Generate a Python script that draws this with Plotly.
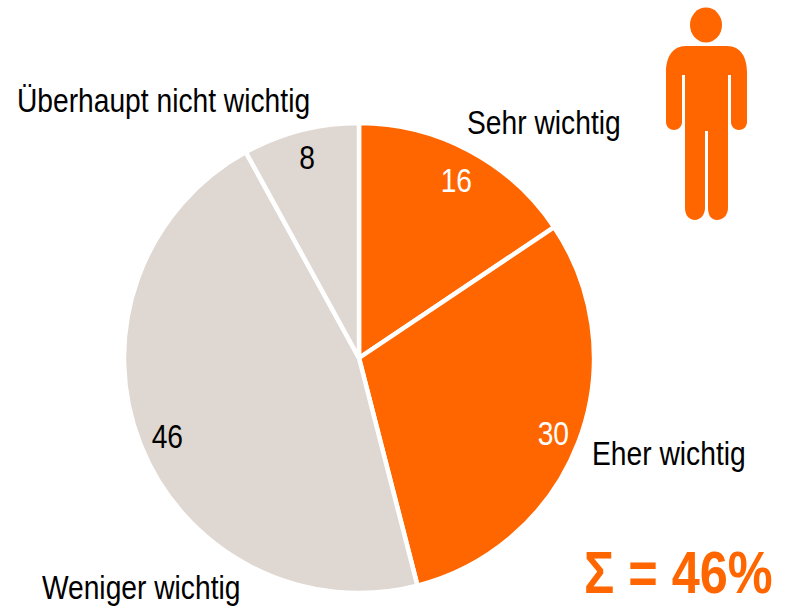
import plotly.graph_objects as go

categories = ["Sehr wichtig", "Eher wichtig", "Weniger wichtig", "Überhaupt nicht wichtig"]
values = [15.6, 30.4, 46, 8]
colors = ["#FF6600", "#FF6600", "#DFD7D1", "#DFD7D1"]
value_colors = ["white", "white", "black", "black"]
total_label = "Σ = 46%"

W, H = 785, 606
FONT = "Liberation Sans"
cx, cy, r = 359, 358, 235

def px(x): return x / W
def py(y): return 1 - y / H

fig = go.Figure(go.Pie(
    labels=categories, values=values, sort=False, direction="clockwise", rotation=0,
    marker=dict(colors=colors, line=dict(color="white", width=4.5)),
    textinfo="none", showlegend=False, hoverinfo="label+value",
    domain=dict(x=[px(cx - r), px(cx + r)], y=[py(cy + r), py(cy - r)]),
))

label_pos = [(543.5, 122), (668.5, 453), (140.5, 587), (163.5, 101)]
value_pos = [(456, 180), (553, 433), (167, 436), (307, 158)]
annos = []
for c, v, vc, lp, vp in zip(categories, values, value_colors, label_pos, value_pos):
    annos.append(dict(x=px(lp[0]), y=py(lp[1]), text=c, xref="paper", yref="paper", showarrow=False,
                      xanchor="center", yanchor="middle", font=dict(family=FONT, size=33, color="black")))
    annos.append(dict(x=px(vp[0]), y=py(vp[1]), text=str(round(v)), xref="paper", yref="paper", showarrow=False,
                      xanchor="center", yanchor="middle", font=dict(family=FONT, size=33, color=vc)))
annos.append(dict(x=px(678.5), y=py(572.5), text=total_label, xref="paper", yref="paper", showarrow=False,
                  xanchor="center", yanchor="middle",
                  font=dict(family=FONT, size=59, color="#FF6600", weight="bold")))

p = [(686,46),(727,46),(741,46),(747,58),(747,72),(747,122),(747,127),(743,130),(739,130),
     (734,130),(731,126),(731,122),(731,75),(728,75),(728,208),
     (728,215),(723,220),(717,220),(711,220),(708,215),(708,208),(708,131),(705,131),(705,208),
     (705,215),(700,220),(695,220),(689,220),(685,215),(685,208),(685,75),(682,75),(682,122),
     (682,126),(679,130),(674,130),(670,130),(666,127),(666,122),(666,72),(666,58),(672,46),(686,46)]
fmt = lambda q: f"{round(px(q[0]), 5)} {round(py(q[1]), 5)}"
path = ("M{} L{} C{} {} {} L{} C{} {} {} C{} {} {} L{} L{} L{} C{} {} {} C{} {} {} L{} L{} L{} "
        "C{} {} {} C{} {} {} L{} L{} L{} C{} {} {} C{} {} {} L{} C{} {} {} Z").format(*[fmt(q) for q in p])

shapes = [
    dict(type="circle", xref="paper", yref="paper", x0=px(690), x1=px(722), y0=py(42.5), y1=py(7.5),
         fillcolor="#FF6600", line_width=0),
    dict(type="path", xref="paper", yref="paper", path=path, fillcolor="#FF6600", line_width=0),
]

fig.update_layout(width=W, height=H, margin=dict(l=0, r=0, t=0, b=0), paper_bgcolor="white",
                  annotations=annos, shapes=shapes)

# Page without default margin; text (and its box) narrowed to the reference's condensed face.
post = """
document.body.style.margin = '0';
var SCALE = 0.855;
document.querySelectorAll('.annotation-text').forEach(function (t) {
  var b = t.getBBox();
  var c = b.x + b.width / 2;
  var old = t.getAttribute('transform') || '';
  t.setAttribute('transform', old + ' translate(' + c + ',0) scale(' + SCALE + ',1) translate(' + (-c) + ',0)');
  var bg = t.parentNode.querySelector('rect');
  if (bg) {
    var bw = parseFloat(bg.getAttribute('width'));
    var bx = parseFloat(bg.getAttribute('x')) || 0;
    bg.setAttribute('x', bx + bw * (1 - SCALE) / 2);
    bg.setAttribute('width', bw * SCALE);
  }
});
"""
fig.write_html("out.html", post_script=post, config=dict(displayModeBar=False))
